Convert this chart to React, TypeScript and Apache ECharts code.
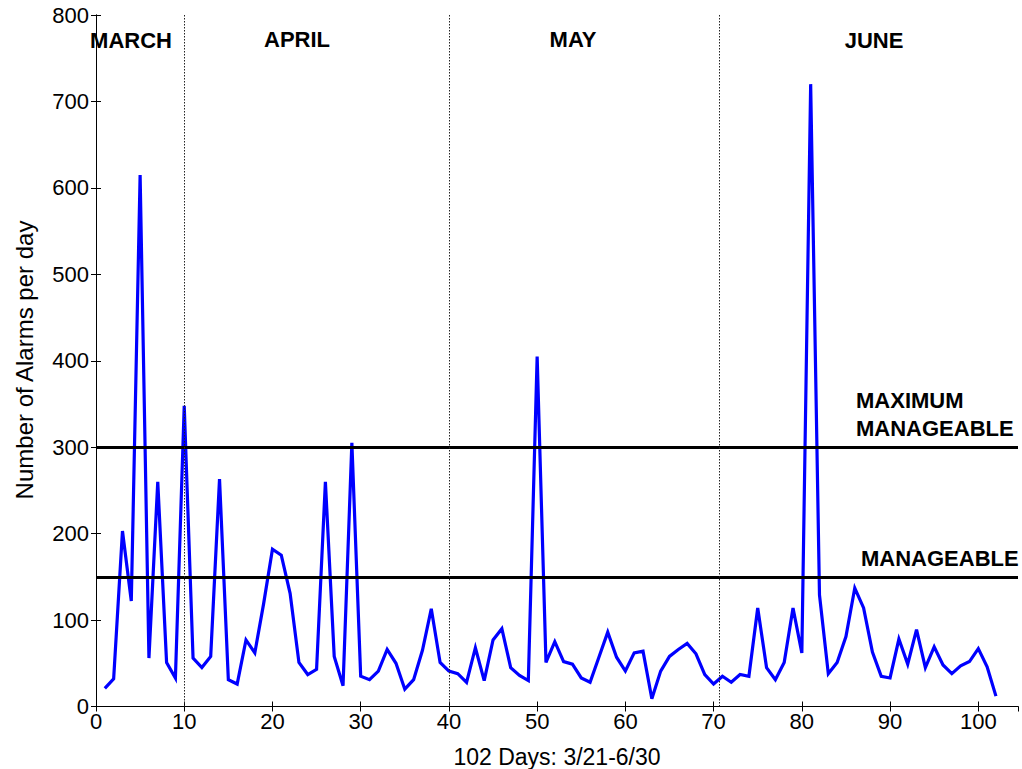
import React, { useEffect, useRef } from "react";
import * as echarts from "echarts";

const alarmsPerDay: number[] = [
  21, 32, 203, 122, 615, 56, 260, 51, 33, 348,
  56, 45, 58, 263, 31, 26, 77, 62, 119, 182,
  175, 131, 51, 37, 43, 260, 58, 24, 305, 35,
  31, 41, 66, 50, 20, 31, 65, 113, 51, 41,
  38, 28, 68, 30, 77, 90, 45, 36, 30, 405,
  51, 75, 52, 49, 33, 28, 57, 86, 57, 41,
  62, 64, 9, 41, 58, 66, 73, 61, 37, 26,
  35, 28, 37, 35, 114, 45, 31, 51, 114, 62,
  720, 129, 38, 51, 81, 137, 114, 63, 35, 33,
  78, 49, 89, 45, 69, 48, 38, 47, 52, 67,
  46, 12,
];

const thresholds: number[] = [300, 150];
const monthBoundaries: number[] = [10, 40, 70.6];
const monthNames: string[] = ["MARCH", "APRIL", "MAY", "JUNE"];
const thresholdLabels: string[] = ["MAXIMUM", "MANAGEABLE", "MANAGEABLE"];
const xTitle = "102 Days: 3/21-6/30";
const yTitle = "Number of Alarms per day";

const FONT = "'Liberation Sans', Arial, sans-serif";

export default function App() {
  const ref = useRef<HTMLDivElement>(null);

  useEffect(() => {
    if (!ref.current) return;
    const chart = echarts.init(ref.current, null, { renderer: "svg" });

    const monthPos = [
      [131, 40],
      [297, 39],
      [573, 39],
      [874, 40],
    ];
    const thrPos = [
      [856, 400],
      [856, 428],
      [861, 558],
    ];

    const axisCommon = {
      axisLine: { show: true, lineStyle: { color: "#000", width: 1 } },
      axisTick: { show: true, inside: true, length: 5, lineStyle: { color: "#000" } },
      splitLine: { show: false },
    };

    chart.setOption({
      animation: false,
      backgroundColor: "#fff",
      grid: { left: 96, top: 15, width: 922, height: 691.5, containLabel: false },
      xAxis: [
        {
          type: "value",
          min: 0,
          max: 104.5,
          interval: 10,
          position: "bottom",
          ...axisCommon,
          axisLabel: {
            color: "#000",
            fontSize: 22,
            fontFamily: FONT,
            margin: 4,
            showMaxLabel: false,
            formatter: (v: number) => (v % 10 === 0 ? String(v) : ""),
          },
        },
        {
          type: "value",
          min: 0,
          max: 104.5,
          interval: 10,
          position: "top",
          ...axisCommon,
          axisLabel: { show: false },
        },
      ],
      yAxis: [
        {
          type: "value",
          min: 0,
          max: 800,
          interval: 100,
          position: "left",
          ...axisCommon,
          axisLabel: { color: "#000", fontSize: 22, fontFamily: FONT, margin: 7 },
        },
        {
          type: "value",
          min: 0,
          max: 800,
          interval: 100,
          position: "right",
          ...axisCommon,
          axisLabel: { show: false },
        },
      ],
      series: [
        {
          type: "line",
          data: [],
          z: 1,
          markLine: {
            silent: true,
            symbol: ["none", "none"],
            label: { show: false },
            data: [
              ...thresholds.map((t) => ({
                yAxis: t,
                lineStyle: { color: "#000", width: 3, type: "solid" },
              })),
              ...monthBoundaries.map((b) => ({
                xAxis: b,
                lineStyle: { color: "#222", width: 1, type: [1.5, 1.5] },
              })),
            ],
          },
        },
        {
          type: "line",
          z: 3,
          data: alarmsPerDay.map((v, i) => [i + 1, v]),
          showSymbol: false,
          symbol: "none",
          lineStyle: { color: "#0000ff", width: 3.2, join: "miter" },
        },
      ],
      graphic: [
        ...monthNames.map((m, i) => ({
          type: "text",
          x: monthPos[i][0],
          y: monthPos[i][1],
          z: 10,
          style: {
            text: m,
            fill: "#000",
            font: `bold 22px ${FONT}`,
            textAlign: "center",
            textVerticalAlign: "middle",
          },
        })),
        ...thresholdLabels.map((m, i) => ({
          type: "text",
          x: thrPos[i][0],
          y: thrPos[i][1],
          z: 10,
          style: {
            text: m,
            fill: "#000",
            font: `bold 22px ${FONT}`,
            textAlign: "left",
            textVerticalAlign: "middle",
          },
        })),
        {
          type: "text",
          x: 557,
          y: 745,
          style: {
            text: xTitle,
            fill: "#000",
            font: `23px ${FONT}`,
            textAlign: "center",
            textVerticalAlign: "top",
          },
        },
        {
          type: "text",
          x: 24,
          y: 360,
          rotation: Math.PI / 2,
          style: {
            text: yTitle,
            fill: "#000",
            font: `24px ${FONT}`,
            textAlign: "center",
            textVerticalAlign: "middle",
          },
        },
      ],
    });

    return () => chart.dispose();
  }, []);

  return (
    <div
      ref={ref}
      style={{ position: "fixed", left: 0, top: 0, width: 1022, height: 769, background: "#fff" }}
    />
  );
}
